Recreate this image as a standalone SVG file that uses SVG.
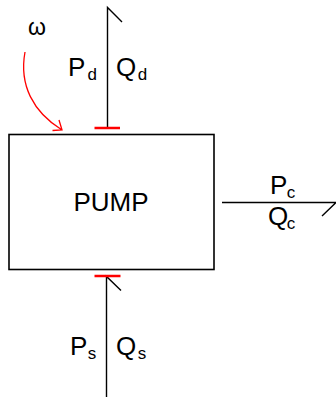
<svg xmlns="http://www.w3.org/2000/svg" width="336" height="397" viewBox="0 0 336 397">
<style>
.t{font-family:"Liberation Sans",Arial,sans-serif;font-size:26px;fill:#000}
.s{font-family:"Liberation Sans",Arial,sans-serif;font-size:17px;fill:#000}
.ln{stroke:#000;stroke-width:1.4;fill:none}
.red{stroke:#ff0000;stroke-width:2.5;fill:none}
</style>
<rect width="336" height="397" fill="#fff"/>
<g id="pump">
<rect x="9" y="134.5" width="205" height="135" fill="#fff" stroke="#000" stroke-width="1.6"/>
<text class="t" x="111" y="211" text-anchor="middle">PUMP</text>
</g>
<g id="connectors">
<path class="ln" d="M107.5,128 V7.5 L122,22"/>
<path class="red" d="M94.5,128 H120"/>
<path class="ln" d="M106.5,397 V276.5 L121,290.5"/>
<path class="red" d="M94.5,276 H120.5"/>
<path class="ln" d="M222,202.5 H336 L322,216"/>
<path stroke="#ff0000" stroke-width="1.3" fill="none" d="M25,52 C19,85 33,112 62,130 M59,120 L62,130 L52.5,130.5"/>
</g>
<g id="omega">
<text class="t" x="28" y="34.5" style="font-size:23px">ω</text>
</g>
<g id="label-d">
<text class="t" x="68" y="76">P</text><text class="s" x="87.5" y="79.5">d</text>
<text class="t" x="116" y="76">Q</text><text class="s" x="137.8" y="79.5">d</text>
</g>
<g id="label-c">
<text class="t" x="270" y="194">P</text><text class="s" x="286.8" y="198">c</text>
<text class="t" x="268" y="225">Q</text><text class="s" x="286.8" y="229">c</text>
</g>
<g id="label-s">
<text class="t" x="70" y="355">P</text><text class="s" x="87.8" y="358.7">s</text>
<text class="t" x="116" y="355">Q</text><text class="s" x="137.8" y="358.7">s</text>
</g>
</svg>
